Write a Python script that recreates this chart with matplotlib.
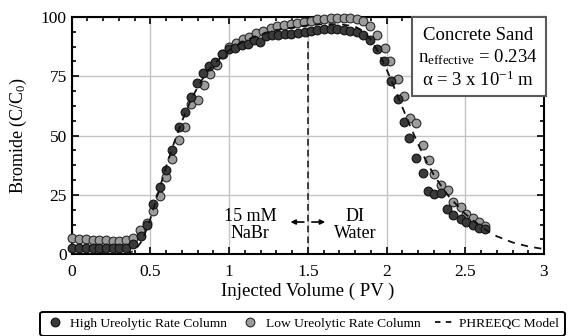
import matplotlib
matplotlib.use("Agg")
import matplotlib.pyplot as plt
import matplotlib.patches as patches
from matplotlib.lines import Line2D
from matplotlib.ticker import MultipleLocator, FuncFormatter

plt.rcParams['font.family'] = ['Liberation Serif', 'DejaVu Serif']
plt.rcParams['mathtext.fontset'] = 'custom'
plt.rcParams['mathtext.rm'] = 'Liberation Serif'
plt.rcParams['mathtext.it'] = 'Liberation Serif:italic'

# high ureolytic rate column (dark)
high_x = [0.005, 0.048, 0.09, 0.133, 0.175, 0.218, 0.26, 0.303, 0.345, 0.39,
          0.44, 0.477, 0.516, 0.558, 0.60, 0.637, 0.68, 0.717, 0.755, 0.796,
          0.834, 0.875, 0.913, 0.955, 0.998, 1.04, 1.08, 1.118, 1.157, 1.195,
          1.232, 1.27, 1.31, 1.353, 1.395, 1.438, 1.48, 1.52, 1.56, 1.60,
          1.645, 1.687, 1.73, 1.77, 1.81, 1.853, 1.895, 1.94, 1.985, 2.03,
          2.07, 2.11, 2.145, 2.19, 2.23, 2.265, 2.30, 2.345, 2.385, 2.42,
          2.47, 2.505, 2.547, 2.585, 2.626]
high_y = [2.8, 2.7, 2.6, 2.6, 2.6, 2.6, 2.6, 2.6, 2.8, 4.3,
          7.6, 12.3, 21.0, 28.5, 35.5, 44.0, 53.6, 60.0, 66.3, 72.2,
          76.4, 79.2, 81.2, 84.3, 86.4, 86.9, 88.2, 88.8, 90.5, 89.6,
          92.0, 92.3, 92.5, 92.8, 93.0, 93.4, 93.7, 94.0, 94.4, 94.8,
          94.8, 94.8, 94.4, 94.0, 93.7, 92.5, 90.2, 86.6, 81.3, 73.0,
          65.3, 55.9, 49.0, 40.4, 34.1, 26.8, 25.4, 25.7, 19.0, 16.6,
          14.7, 13.7, 12.3, 11.0, 10.5]

# low ureolytic rate column (grey)
low_x = [0.005, 0.048, 0.09, 0.133, 0.175, 0.218, 0.26, 0.303, 0.345, 0.388,
         0.435, 0.478, 0.516, 0.558, 0.60, 0.637, 0.68, 0.72, 0.758, 0.80,
         0.84, 0.88, 0.92, 0.96, 1.0, 1.043, 1.085, 1.128, 1.17, 1.213,
         1.263, 1.305, 1.348, 1.39, 1.433, 1.475, 1.518, 1.56, 1.60, 1.645,
         1.687, 1.73, 1.77, 1.815, 1.853, 1.895, 1.94, 1.99, 2.02, 2.07,
         2.11, 2.15, 2.19, 2.23, 2.27, 2.30, 2.345, 2.39, 2.425, 2.47,
         2.505, 2.547, 2.59, 2.626]
low_y = [6.7, 6.5, 6.3, 6.1, 6.0, 5.9, 5.8, 5.8, 5.9, 6.8,
         10.2, 13.0, 18.2, 24.6, 32.7, 40.0, 48.3, 53.8, 63.4, 65.2,
         71.2, 75.8, 79.8, 84.2, 87.3, 88.9, 90.6, 91.7, 93.1, 94.2,
         95.4, 96.2, 96.8, 97.2, 97.6, 97.9, 98.2, 99.0, 99.3, 99.6,
         99.6, 99.6, 99.6, 99.0, 98.2, 96.2, 92.5, 86.9, 81.3, 73.9,
         66.5, 57.3, 55.5, 46.0, 39.7, 33.7, 29.2, 27.1, 22.2, 20.0,
         17.0, 15.2, 13.7, 11.9]

# PHREEQC model curve
model_x = [0.0, 0.3, 0.35, 0.4, 0.45, 0.5, 0.55, 0.6, 0.65, 0.7, 0.75, 0.8,
           0.85, 0.9, 1.0, 1.1, 1.2, 1.3, 1.4, 1.5, 1.6, 1.7, 1.8, 1.85,
           1.9, 1.95, 2.0, 2.05, 2.1, 2.15, 2.2, 2.25, 2.3, 2.35, 2.4, 2.5,
           2.6, 2.7, 2.8, 2.9, 3.0]
model_y = [0.0, 0.0, 0.3, 1.5, 6.0, 15.0, 26.0, 37.0, 47.0, 56.0, 64.0, 70.5,
           76.0, 80.0, 86.0, 90.0, 92.5, 94.5, 95.5, 96.5, 97.0, 97.0, 96.0, 94.0,
           90.5, 85.0, 78.0, 70.0, 62.0, 54.0, 46.5, 39.5, 33.5, 28.5, 24.0, 17.0,
           11.5, 7.6, 5.0, 3.3, 2.2]

x_ticks = [0, 0.5, 1, 1.5, 2, 2.5, 3]
y_ticks = [0, 25, 50, 75, 100]

W, H = 572, 336
fig = plt.figure(figsize=(W / 100, H / 100), dpi=100)
ax = fig.add_axes([71.7 / W, 1 - 254.3 / H, (544 - 71.7) / W, (254.3 - 17) / H])

dark = '#3a3a3a'
grey = '#9c9c9c'

ax.plot(low_x, low_y, 'o', ms=6.3, mfc=grey, mec='#2a2a2a', mew=0.8,
        clip_on=False, zorder=3)
ax.plot(high_x, high_y, 'o', ms=6.3, mfc=dark, mec='#111111', mew=0.8,
        clip_on=False, zorder=4)
ax.plot(model_x, model_y, color='#111111', lw=1.3, ls=(0, (4, 3.5)), zorder=5)

# injection switch
ax.plot([1.5, 1.5], [0, 95], color='#222222', lw=1.2, ls=(0, (4, 2.5)), zorder=2)
arrow = dict(arrowstyle='-|>', color='black', lw=1.2, mutation_scale=7,
             shrinkA=0, shrinkB=0)
ax.annotate('', xy=(1.39, 13.6), xytext=(1.475, 13.6), arrowprops=arrow)
ax.annotate('', xy=(1.61, 13.6), xytext=(1.525, 13.6), arrowprops=arrow)
ax.text(1.135, 12.3, '15 mM\nNaBr', ha='center', va='center', fontsize=13,
        linespacing=1.05)
ax.text(1.80, 12.3, 'DI\nWater', ha='center', va='center', fontsize=13,
        linespacing=1.05)

ax.set_xlim(0, 3)
ax.set_ylim(0, 100)
ax.set_xticks(x_ticks)
ax.set_yticks(y_ticks)
ax.xaxis.set_minor_locator(MultipleLocator(0.1))
ax.yaxis.set_minor_locator(MultipleLocator(6.25))
ax.xaxis.set_major_formatter(FuncFormatter(lambda v, p: '%g' % v))
ax.tick_params(which='both', direction='in', top=True, right=True, width=1.2)
ax.tick_params(which='major', length=5)
ax.tick_params(which='minor', length=3)
ax.tick_params(axis='x', labelsize=12.5, pad=7)
ax.tick_params(axis='y', labelsize=12.5, pad=3.5)
ax.grid(True, which='major', color='#c4c4c4', lw=1.0)
ax.set_axisbelow(True)
for s in ax.spines.values():
    s.set_linewidth(1.5)

fig.text(18 / W, 1 - 135.7 / H, 'Bromide (C/C$_{\\mathrm{0}}$)', rotation=90,
         ha='center', va='center', fontsize=13)
fig.text(308 / W, 1 - 291.7 / H, 'Injected Volume ( PV )', ha='center',
         va='center', fontsize=13.5)

# info box
box = patches.Rectangle((411.7 / W, 1 - 96 / H), (545.7 - 411.7) / W, (96 - 17) / H,
                        transform=fig.transFigure, facecolor='white',
                        edgecolor='#5a5a5a', lw=1.5, zorder=6)
fig.patches.append(box)
fig.text(478 / W, 1 - 35 / H, 'Concrete Sand', ha='center', va='center',
         fontsize=13.5, zorder=7)
fig.text(478 / W, 1 - 57 / H, 'n$_{\\mathrm{effective}}$ = 0.234', ha='center',
         va='center', fontsize=13.5, zorder=7)
fig.text(478 / W, 1 - 80 / H, '\u03b1 = 3 x 10$^{\\mathrm{-1}}$ m', ha='center',
         va='center', fontsize=13.5, zorder=7)

handles = [
    Line2D([], [], ls='none', marker='o', ms=6.3, mfc=dark, mec='#111111', mew=0.8),
    Line2D([], [], ls='none', marker='o', ms=6.3, mfc=grey, mec='#2a2a2a', mew=0.8),
    Line2D([], [], color='#111111', lw=1.3, ls=(0, (3, 3))),
]
labels = ['High Ureolytic Rate Column', 'Low Ureolytic Rate Column', 'PHREEQC Model']
leg = fig.legend(handles, labels, loc='upper left', ncol=3,
                 bbox_to_anchor=(40 / W, 1 - 311.5 / H), borderaxespad=0,
                 fontsize=9.7, handlelength=1.3, handletextpad=0.5,
                 columnspacing=1.05, borderpad=0.45, fancybox=True,
                 edgecolor='black', framealpha=1)
leg.get_frame().set_linewidth(1.4)

fig.savefig('out.png', dpi=100)
